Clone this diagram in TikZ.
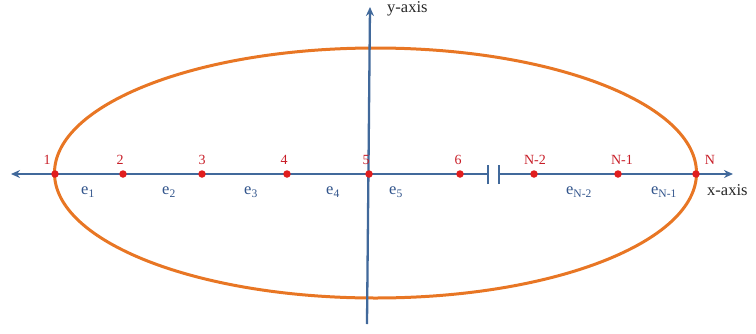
\documentclass[tikz,border=0pt]{standalone}
\usepackage{fontspec}
\setmainfont{Liberation Serif}
\usetikzlibrary{arrows.meta}
\definecolor{axisblue}{RGB}{65,105,155}
\definecolor{lblblue}{RGB}{50,85,140}
\definecolor{ellorange}{RGB}{232,118,36}
\definecolor{ptred}{RGB}{225,30,30}
\definecolor{numred}{RGB}{200,30,40}
\begin{document}
\begin{tikzpicture}[x=1pt,y=-1pt,
  axisline/.style={draw=axisblue,line width=2.3pt},
  axisarrow/.style={axisline,-{Stealth[length=9pt,width=8pt]}},
  ptdot/.style={circle,fill=ptred,inner sep=0pt,minimum size=7.5pt},
  numlbl/.style={text=numred,font=\fontsize{14}{16}\selectfont,inner sep=1pt},
  elbl/.style={text=lblblue,font=\fontsize{16.5}{18}\selectfont,inner sep=1pt},
  axlbl/.style={text=black!85,font=\fontsize{16.5}{18}\selectfont,inner sep=1pt}]
\useasboundingbox (0,0) rectangle (756,333);
% ellipse
\draw[ellorange,line width=3pt] (375.5,173) ellipse [x radius=321, y radius=125];
% axes
\coordinate (xl) at (11,174);
\coordinate (br1) at (488,174);
\coordinate (br2) at (499,174);
\coordinate (xr) at (733,174);
\coordinate (yt) at (370,7);
\coordinate (yb) at (367,324);
\draw[axisline,{Stealth[length=9pt,width=8pt]}-] (xl) -- (br1);
\draw[axisarrow] (br2) -- (xr);
\draw[axisline] ([yshift=-10]br1) -- ([yshift=9]br1);
\draw[axisline] ([yshift=-10]br2) -- ([yshift=9]br2);
\draw[axisarrow] (yb) -- (yt);
% points
\foreach \n/\x in {p1/55,p2/123,p3/202,p4/287,p5/369,p6/460,pN2/534,pN1/618,pN/696}
  \node[ptdot] (\n) at (\x,174) {};
% numbers
\node[numlbl] (l1) at (47,160) {1};
\node[numlbl] (l2) at (120,160) {2};
\node[numlbl] (l3) at (202,160) {3};
\node[numlbl] (l4) at (284,160) {4};
\node[numlbl] (l5) at (366,160) {5};
\node[numlbl] (l6) at (458,160) {6};
\node[numlbl] (lN2) at (535,160) {N-2};
\node[numlbl] (lN1) at (622,160) {N-1};
\node[numlbl] (lN) at (710,160) {N};
% element labels
\node[elbl] (e1) at (88,192) {e\textsubscript{1}};
\node[elbl] (e2) at (169,192) {e\textsubscript{2}};
\node[elbl] (e3) at (251,192) {e\textsubscript{3}};
\node[elbl] (e4) at (333,192) {e\textsubscript{4}};
\node[elbl] (e5) at (396,192) {e\textsubscript{5}};
\node[elbl] (eN2) at (579,192) {e\textsubscript{N-2}};
\node[elbl] (eN1) at (664,192) {e\textsubscript{N-1}};
% axis labels
\node[axlbl,anchor=west] (xlab) at (706,190) {x-axis};
\node[axlbl,anchor=west] (ylab) at (386,9) {y-axis};
\end{tikzpicture}
\end{document}
